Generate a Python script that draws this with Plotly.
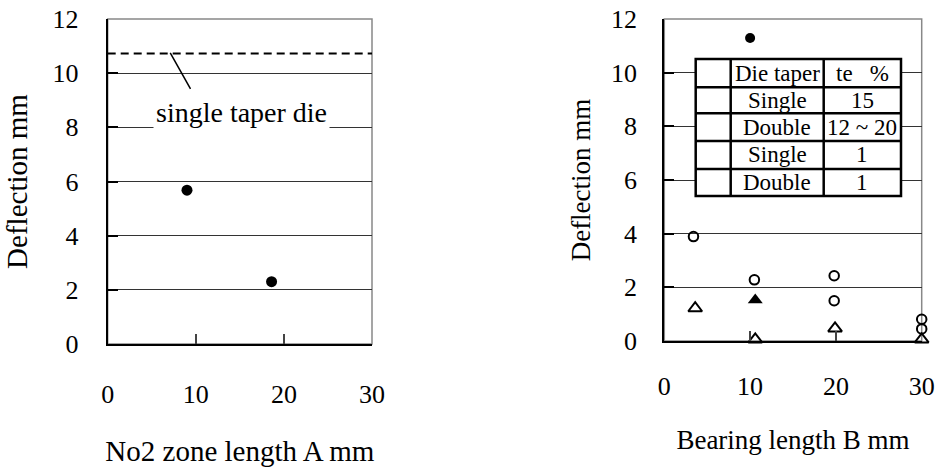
import plotly.graph_objects as go

# ---------------- data ----------------
# Left panel: deflection vs No2 zone length A
a_len = [9.0, 18.6]
a_defl = [5.68, 2.30]
single_taper_x = [0, 30]
single_taper_y = [10.73, 10.73]
leader_x = [7.1, 9.4]
leader_y = [10.75, 9.42]
single_taper_label = "single taper die"

# Right panel: deflection vs bearing length B
b_filled_circle_x = [10.0]
b_filled_circle_y = [11.29]
b_open_circle_x = [3.4, 10.5, 19.8, 19.8, 30.0, 30.0]
b_open_circle_y = [3.89, 2.28, 2.43, 1.50, 0.81, 0.45]
b_filled_tri_x = [10.6]
b_filled_tri_y = [1.53]
b_open_tri_x = [3.6, 10.6, 19.9, 30.0]
b_open_tri_y = [1.22, 0.06, 0.47, 0.06]

x_ticks = [0, 10, 20, 30]
y_ticks = [0, 2, 4, 6, 8, 10, 12]

table_header = ["", "Die taper", "te\u00a0\u00a0\u00a0%"]
table_taper = ["Single", "Double", "Single", "Double"]
table_te = ["15", "12 ~ 20", "1", "1"]

# ---------------- figure ----------------
W, H = 937, 468
FONT = "Liberation Serif"


def px(x):
    return x / W


def py(y):
    return 1 - y / H


fig = go.Figure()

# left panel traces
fig.add_trace(go.Scatter(x=single_taper_x, y=single_taper_y, mode="lines",
                         line=dict(color="black", width=2, dash="8px,5px"),
                         xaxis="x", yaxis="y", hoverinfo="skip"))
fig.add_trace(go.Scatter(x=leader_x, y=leader_y, mode="lines",
                         line=dict(color="black", width=1.5),
                         xaxis="x", yaxis="y", hoverinfo="skip"))
fig.add_trace(go.Scatter(x=a_len, y=a_defl, mode="markers",
                         marker=dict(symbol="circle", size=11, color="black"),
                         xaxis="x", yaxis="y", cliponaxis=False))

# right panel traces
fig.add_trace(go.Scatter(x=b_filled_circle_x, y=b_filled_circle_y, mode="markers",
                         marker=dict(symbol="circle", size=10, color="black"),
                         xaxis="x2", yaxis="y2", cliponaxis=False))
fig.add_trace(go.Scatter(x=b_open_circle_x, y=b_open_circle_y, mode="markers",
                         marker=dict(symbol="circle-open", size=9.5, color="black",
                                     line=dict(width=2, color="black")),
                         xaxis="x2", yaxis="y2", cliponaxis=False))
fig.add_trace(go.Scatter(x=b_filled_tri_x, y=b_filled_tri_y, mode="markers",
                         marker=dict(symbol="triangle-up", size=13, color="black"),
                         xaxis="x2", yaxis="y2", cliponaxis=False))
fig.add_trace(go.Scatter(x=b_open_tri_x, y=b_open_tri_y, mode="markers",
                         marker=dict(symbol="triangle-up-open", size=12, color="black",
                                     line=dict(width=2, color="black")),
                         xaxis="x2", yaxis="y2", cliponaxis=False))

tick_font = dict(family=FONT, size=26, color="black")
title_font = dict(family=FONT, size=27, color="black")
title_font_big = dict(family=FONT, size=29, color="black")

xcommon = dict(range=[0, 30], tickvals=x_ticks, ticks="inside", ticklen=10,
               tickcolor="#444", tickwidth=1.5, showline=True, linecolor="black",
               linewidth=2, showgrid=False, zeroline=False, tickfont=tick_font,
               fixedrange=True, automargin=False)
ycommon = dict(range=[0, 12], tickvals=y_ticks, ticks="inside", ticklen=10,
               tickcolor="black", tickwidth=2, showline=True, linecolor="black",
               linewidth=2, showgrid=True, gridcolor="#333", gridwidth=1,
               zeroline=False, tickfont=tick_font,
               fixedrange=True, automargin=False)

fig.update_layout(
    width=W, height=H,
    margin=dict(l=0, r=0, t=0, b=0),
    paper_bgcolor="white", plot_bgcolor="white",
    showlegend=False,
    font=dict(family=FONT, color="black"),
    xaxis=dict(domain=[px(107.7), px(372)], anchor="y", ticklabelstandoff=26,
               title=dict(text="No2 zone length A mm", font=title_font_big, standoff=32),
               **xcommon),
    yaxis=dict(domain=[py(344), py(19)], anchor="x", ticklabelstandoff=22,
               title=dict(text="Deflection mm", font=title_font_big, standoff=16),
               **ycommon),
    xaxis2=dict(domain=[px(664.3), px(921.7)], anchor="y2", ticklabelstandoff=21,
                title=dict(text="Bearing length B mm", font=title_font, standoff=30),
                **xcommon),
    yaxis2=dict(domain=[py(341), py(19)], anchor="x2", ticklabelstandoff=20,
                title=dict(text="Deflection mm", font=title_font, standoff=13),
                **ycommon),
)

# grey top/right frame
for xa, ya in (("x", "y"), ("x2", "y2")):
    fig.add_shape(type="rect", xref=f"{xa} domain", yref=f"{ya} domain",
                  x0=0, x1=1, y0=0, y1=1, line=dict(color="#888", width=1.5),
                  layer="below")

# annotation label on the left panel
fig.add_annotation(x=15.2, y=8.56, xref="x", yref="y", text=single_taper_label,
                   showarrow=False, bgcolor="white", borderpad=2,
                   xanchor="center", yanchor="middle",
                   font=dict(family=FONT, size=28, color="black"))

# legend table on the right panel
col_edges = [695.7, 730.7, 823.7, 901.0]
row_edges = [59.0, 87.3, 113.3, 141.0, 169.0, 196.0]
fig.add_shape(type="rect", xref="paper", yref="paper",
              x0=px(col_edges[0]), x1=px(col_edges[-1]),
              y0=py(row_edges[-1]), y1=py(row_edges[0]),
              fillcolor="white", line=dict(color="black", width=2.5), layer="above")
for r in row_edges[1:-1]:
    fig.add_shape(type="line", xref="paper", yref="paper",
                  x0=px(col_edges[0]), x1=px(col_edges[-1]), y0=py(r), y1=py(r),
                  line=dict(color="black", width=2.5), layer="above")
for c in col_edges[1:-1]:
    fig.add_shape(type="line", xref="paper", yref="paper",
                  x0=px(c), x1=px(c), y0=py(row_edges[-1]), y1=py(row_edges[0]),
                  line=dict(color="black", width=2.5), layer="above")

rows = [table_header] + [["", t, v] for t, v in zip(table_taper, table_te)]
for i, row in enumerate(rows):
    yc = (row_edges[i] + row_edges[i + 1]) / 2
    for j, txt in enumerate(row):
        if not txt:
            continue
        xc = (col_edges[j] + col_edges[j + 1]) / 2
        fig.add_annotation(x=px(xc), y=py(yc), xref="paper", yref="paper",
                           xanchor="center", yanchor="middle",
                           text=txt, showarrow=False,
                           font=dict(family=FONT, size=23, color="black"))

fig.write_html("out.html", config={"displayModeBar": False},
               post_script="document.body.style.margin='0px';")
